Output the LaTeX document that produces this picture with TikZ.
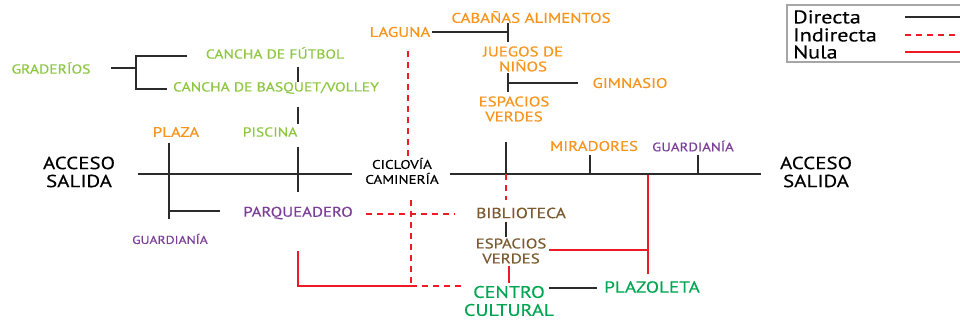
\documentclass[tikz,border=0pt]{standalone}
\usepackage{fontspec}
\setmainfont{PT Sans}[FakeStretch=1.2, FakeBold=0.3]
\definecolor{lima}{HTML}{8DC63F}
\definecolor{naranja}{HTML}{F7941D}
\definecolor{morado}{HTML}{7B3F98}
\definecolor{cafe}{HTML}{7A5A2E}
\definecolor{verde}{HTML}{00A651}
\definecolor{rojo}{HTML}{ED1C24}
\definecolor{linea}{HTML}{2B2B2B}
\newcommand{\tam}[2]{\fontsize{#1}{#2}\selectfont}
\tikzset{
  directa/.style={draw=linea, line width=1.4pt},
  indirecta/.style={draw=rojo, line width=1.4pt, dash pattern=on 6pt off 5pt},
  nula/.style={draw=rojo, line width=1.4pt},
  lbl/.style={align=center, inner sep=1pt},
  ley/.style={anchor=west, inner sep=0pt, font=\tam{18.5}{17}},
}
\begin{document}
\begin{tikzpicture}[x=1pt, y=-1pt]
    \useasboundingbox (0,0) rectangle (960,320);

    % 节点
    \node[lbl, text=lima, font=\tam{13}{15}] (gradas) at (51,68) {GRADERÍOS};
    \node[lbl, text=lima, font=\tam{13}{15}] (futbol) at (275,53) {CANCHA DE FÚTBOL};
    \node[lbl, text=lima, font=\tam{13}{15}] (basquet) at (276,88) {CANCHA DE BASQUET/VOLLEY};
    \node[lbl, text=lima, font=\tam{13}{15}] (piscina) at (270,132) {PISCINA};
    \node[lbl, text=naranja, font=\tam{14}{15}] (plaza) at (176,132) {PLAZA};
    \node[lbl, text=naranja, font=\tam{14}{15}] (laguna) at (400,32) {LAGUNA};
    \node[lbl, text=naranja, font=\tam{14}{15}] (cabanas) at (531,17) {CABAÑAS ALIMENTOS};
    \node[lbl, text=naranja, font=\tam{14}{15}] (juegos) at (523,59) {JUEGOS DE\\NIÑOS};
    \node[lbl, text=naranja, font=\tam{14}{15}] (gimnasio) at (630,83) {GIMNASIO};
    \node[lbl, text=naranja, font=\tam{14}{15}] (espverdes) at (514,109) {ESPACIOS\\VERDES};
    \node[lbl, text=naranja, font=\tam{14}{15}] (miradores) at (594,146) {MIRADORES};
    \node[lbl, text=morado, font=\tam{12.3}{14}] (guardder) at (693,146) {GUARDIANÍA};
    \node[lbl, font=\tam{17.5}{18}] (accizq) at (79,172) {ACCESO\\SALIDA};
    \node[lbl, font=\tam{17.5}{18}] (accder) at (816,172) {ACCESO\\SALIDA};
    \node[lbl, font=\tam{12.5}{15}] (ciclovia) at (402,171) {CICLOVÍA\\CAMINERÍA};
    \node[lbl, text=morado, font=\tam{14}{15}] (parq) at (298,213) {PARQUEADERO};
    \node[lbl, text=morado, font=\tam{11.4}{13}] (guardizq) at (170,239) {GUARDIANÍA};
    \node[lbl, text=cafe, font=\tam{14.6}{15}] (biblio) at (521,213) {BIBLIOTECA};
    \node[lbl, text=cafe, font=\tam{14}{15}] (espbib) at (511,251) {ESPACIOS\\VERDES};
    \node[lbl, text=verde, font=\tam{16.7}{18}] (centro) at (509,301) {CENTRO\\CULTURAL};
    \node[lbl, text=verde, font=\tam{16}{18}] (plazoleta) at (652,287) {PLAZOLETA};

    % 连接点
    \coordinate (g0) at (111,68);
    \coordinate (g1) at (136,68);
    \coordinate (g2) at (136,56);
    \coordinate (g3) at (187,56);
    \coordinate (g4) at (136,89);
    \coordinate (g5) at (167,89);
    \coordinate (c1) at (298,67);
    \coordinate (c2) at (298,82);
    \coordinate (c3) at (298,107);
    \coordinate (c4) at (298,124);
    \coordinate (p1) at (298,147);
    \coordinate (p2) at (298,192);
    \coordinate (z1) at (169,143);
    \coordinate (z2) at (169,219);
    \coordinate (z3) at (169,211);
    \coordinate (z4) at (220,211);
    \coordinate (m1) at (138,174);
    \coordinate (m2) at (352,174);
    \coordinate (m3) at (450,174);
    \coordinate (m4) at (761,174);
    \coordinate (l1) at (432,32);
    \coordinate (l2) at (508,32);
    \coordinate (l3) at (508,23);
    \coordinate (l4) at (508,42);
    \coordinate (j1) at (508,73);
    \coordinate (j2) at (508,92);
    \coordinate (j3) at (508,83);
    \coordinate (j4) at (578,83);
    \coordinate (e1) at (506,142);
    \coordinate (e2) at (506,174);
    \coordinate (e3) at (506,200);
    \coordinate (r1) at (590,155);
    \coordinate (r2) at (590,174);
    \coordinate (r3) at (698,155);
    \coordinate (r4) at (698,174);
    \coordinate (b1) at (506,222);
    \coordinate (b2) at (506,237);
    \coordinate (k1) at (549,288);
    \coordinate (k2) at (597,288);
    \coordinate (d1) at (408,51);
    \coordinate (d2) at (408,157);
    \coordinate (d3) at (411,200);
    \coordinate (d4) at (411,286);
    \coordinate (d5) at (462,286);
    \coordinate (h1) at (366,214);
    \coordinate (h2) at (455,214);
    \coordinate (n1) at (298,251);
    \coordinate (n2) at (298,286);
    \coordinate (n3) at (648,175);
    \coordinate (n4) at (648,274);
    \coordinate (n5) at (549,250);
    \coordinate (n6) at (648,250);
    \coordinate (n7) at (509,266);
    \coordinate (n8) at (509,283);

    % 直接
    \draw[directa] (g0) -- (g1);
    \draw[directa] (g3) -- (g2) -- (g4) -- (g5);
    \draw[directa] (c1) -- (c2);
    \draw[directa] (c3) -- (c4);
    \draw[directa] (p1) -- (p2);
    \draw[directa] (z1) -- (z2);
    \draw[directa] (z3) -- (z4);
    \draw[directa] (m1) -- (m2);
    \draw[directa] (m3) -- (m4);
    \draw[directa] (l1) -- (l2);
    \draw[directa] (l3) -- (l4);
    \draw[directa] (j1) -- (j2);
    \draw[directa] (j3) -- (j4);
    \draw[directa] (e1) -- (e2);
    \draw[directa] (r1) -- (r2);
    \draw[directa] (r3) -- (r4);
    \draw[directa] (b1) -- (b2);
    \draw[directa] (k1) -- (k2);

    % 间接
    \draw[indirecta] (d1) -- (d2);
    \draw[indirecta] (e2) -- (e3);
    \draw[indirecta] (d3) -- (d4);
    \draw[indirecta] (d4) -- (d5);
    \draw[indirecta] (h1) -- (h2);

    % 无
    \draw[nula] (n1) -- (n2) -- (d4);
    \draw[nula] (n3) -- (n4);
    \draw[nula] (n5) -- (n6);
    \draw[nula] (n7) -- (n8);

    % 图例
    \draw[draw=gray!70, line width=1.6pt] (787,5) rectangle (975,62);
    \node[ley] (ley1) at (793,17) {Directa};
    \node[ley] (ley2) at (793,35) {Indirecta};
    \node[ley] (ley3) at (793,52) {Nula};
    \coordinate (y1) at (905,17);
    \coordinate (y2) at (905,35);
    \coordinate (y3) at (905,52);
    \draw[directa] (y1) -- ++(60,0);
    \draw[indirecta] (y2) -- ++(60,0);
    \draw[nula] (y3) -- ++(60,0);
\end{tikzpicture}
\end{document}
